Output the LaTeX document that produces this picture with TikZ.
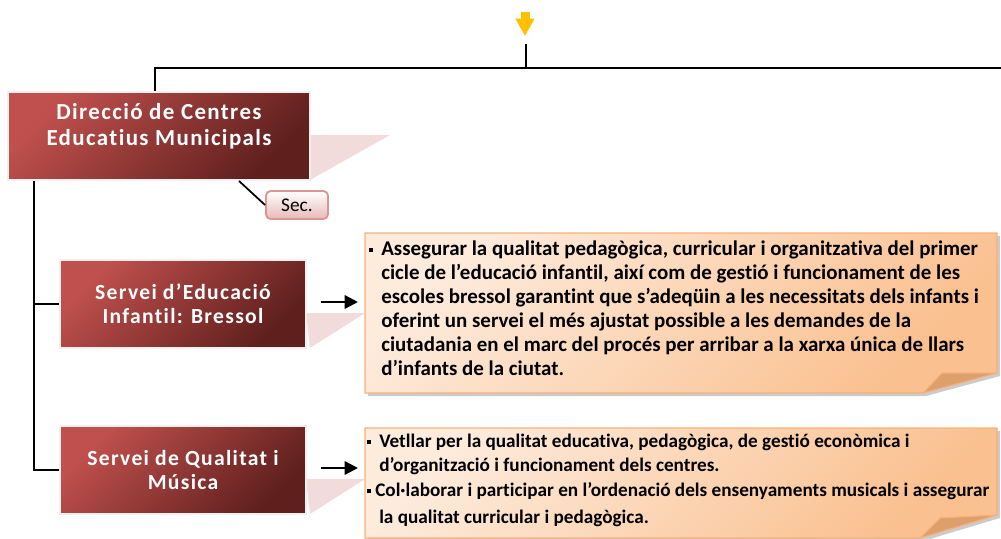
\documentclass[tikz,border=0pt]{standalone}
\usepackage{fontspec}
\setmainfont{Carlito}[RawFeature=-liga]
\newfontfamily\ttlfont[LetterSpace=6,RawFeature=-liga]{Carlito}
\usetikzlibrary{arrows.meta}
\definecolor{redA}{HTML}{C0504D}
\definecolor{redB}{HTML}{943634}
\definecolor{redC}{HTML}{5E1F1D}
\definecolor{pinkT}{HTML}{F2DCDB}
\definecolor{orA}{HTML}{FDEBDC}
\definecolor{orB}{HTML}{FAC08F}
\definecolor{orBorder}{HTML}{F7B07A}
\definecolor{foldC}{HTML}{DDA06C}
\definecolor{goldC}{HTML}{FFC000}
\definecolor{secB}{HTML}{E6B9B8}
\definecolor{secD}{HTML}{D99694}
\tikzset{
  redbox/.style={draw=black!6, line width=1.5pt, top color=redA, bottom color=redC, shading angle=45,
    text=white, align=center, inner sep=0pt},
  titletext/.style={text=white, font=\ttlfont\bfseries\fontsize{17.2}{19.5}\selectfont, align=center, inner sep=0pt},
  subtext/.style={font=\ttlfont\bfseries\fontsize{16.2}{18}\selectfont},
  callout/.style={fill=pinkT},
  orbox/.style={draw=orBorder, line width=0.8pt, top color=orA, bottom color=orB, shading angle=45},
  shadowbox/.style={fill=black!45, opacity=0.45},
  foldflap/.style={fill=foldC, draw=orBorder, line width=0.8pt, line join=round},
  conn/.style={draw=black, line width=1.3pt},
  arr/.style={draw=black, line width=1.7pt, -{Triangle[length=10pt,width=10pt]}},
  txtA/.style={anchor=north west, inner sep=0pt, align=left, font=\bfseries\fontsize{15.7}{18}\selectfont},
  txtB/.style={anchor=north west, inner sep=0pt, align=left, font=\bfseries\fontsize{14.4}{18}\selectfont},
  secbox/.style={draw=secD, line width=1.4pt, rounded corners=3.5pt, top color=white, bottom color=secB,
    minimum width=46.5pt, minimum height=21pt, inner sep=0pt, font=\fontsize{14.5}{16}\selectfont}
}
\newcommand{\bul}{\makebox[9pt][l]{\rule[2.6pt]{3pt}{3pt}}}
\newcommand{\ind}{\hspace*{9pt}}
\begin{document}
\begin{tikzpicture}[x=0.75pt,y=-0.75pt]
\useasboundingbox (0,0) rectangle (1001,539);
% yellow marker
\coordinate (ya) at (525,12);
\draw[goldC, line width=6.75pt, -{Triangle[length=13pt,width=13.5pt]}] (ya) -- (525,36);
% callout triangles
\fill[callout] (310,135) -- (390,135) -- (310,180) -- cycle;
\fill[callout] (306,313) -- (365,313) -- (310,348) -- cycle;
\fill[callout] (306,479) -- (365,479) -- (310,514) -- cycle;
% red boxes
\node[redbox, minimum width=226.5pt, minimum height=66pt] (dir) at (159,136) {};
\node[titletext] (dirt) at (159,126) {Direcció de Centres\\Educatius Municipals};
\node[redbox, minimum width=184.5pt, minimum height=66pt, subtext] (s2) at (183,304) {Servei d’Educació\\Infantil: Bressol};
\node[redbox, minimum width=184.5pt, minimum height=66pt, subtext] (s3) at (183,470) {Servei de Qualitat i\\Música};
\node[secbox] (sec) at (297,205) {Sec.};
% connectors
\coordinate (top) at (526,44);
\draw[conn] (top) -- (526,68) -| ([xshift=-3pt]dir.north);
\draw[conn] (526,68) -- (1001,68);
\coordinate (trunk) at ([xshift=20.25pt]dir.south west);
\draw[conn] (trunk) |- (s3.west);
\draw[conn] (s2.west -| trunk) -- (s2.west);
\draw[conn] ([xshift=174pt]dir.south west) -- (sec.west);
% orange box 1
\fill[shadowbox] (368,236) -- (1000,236) -- (1000,376) -- (926,396) -- (368,396) -- cycle;
\path[orbox] (365,233) -- (997,233) -- (997,373) -- (923,393) -- (365,393) -- cycle;
\path[foldflap] (923,393) -- (942,373) -- (997,373) -- cycle;
\node[txtA] (o1) at (369,241) {\bul Assegurar la qualitat pedagògica, curricular i organitzativa del primer\\
\ind cicle de l’educació infantil, així com de gestió i funcionament de les\\
\ind escoles bressol garantint que s’adeqüin a les necessitats dels infants i\\
\ind oferint un servei el més ajustat possible a les demandes de la\\
\ind ciutadania en el marc del procés per arribar a la xarxa única de llars\\
\ind d’infants de la ciutat.};
% orange box 2
\fill[shadowbox] (368,431) -- (1000,431) -- (1000,518) -- (923,541) -- (368,541) -- cycle;
\path[orbox] (365,428) -- (997,428) -- (997,515) -- (920,538) -- (365,538) -- cycle;
\path[foldflap] (920,538) -- (940,518) -- (997,515) -- cycle;
\node[txtB] (o2) at (367,434) {\bul Vetllar per la qualitat educativa, pedagògica, de gestió econòmica i\\
\ind d’organització i funcionament dels centres.\\[0.5pt]
\makebox[6pt][l]{\rule[2.6pt]{3pt}{3pt}}Col·laborar i participar en l’ordenació dels ensenyaments musicals i assegurar\\[2.5pt]
\ind la qualitat curricular i pedagògica.};
% arrows
\coordinate (o1w) at (358,302);
\coordinate (o2w) at (358,468);
\draw[arr] ([xshift=10.5pt]s2.east |- o1w) -- (o1w);
\draw[arr] ([xshift=10.5pt]s3.east |- o2w) -- (o2w);
\end{tikzpicture}
\end{document}
